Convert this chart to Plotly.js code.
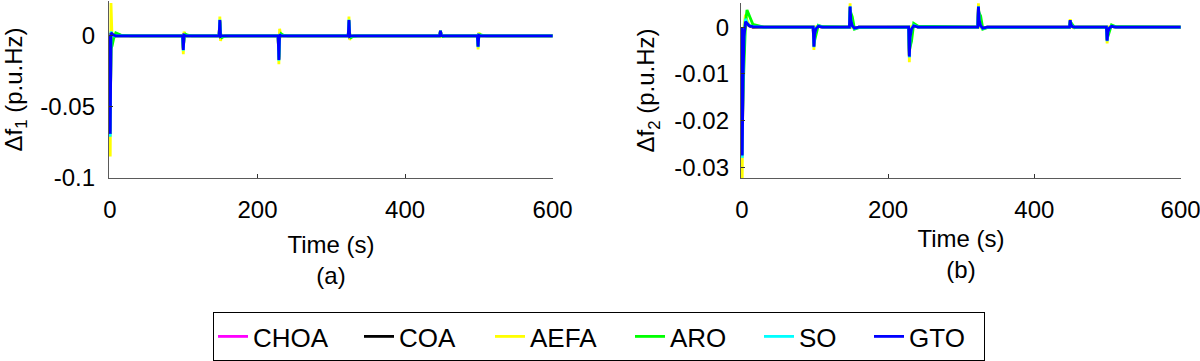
<!DOCTYPE html>
<html>
<head>
<meta charset="utf-8">
<script src="https://cdn.plot.ly/plotly-3.0.1.min.js"></script>
<style>html,body{margin:0;padding:0;background:#fff;}#chart{width:1200px;height:361px;}</style>
</head>
<body>
<div id="chart"></div>
<script>
// ---------- DATA ----------
const seriesNames = ['CHOA', 'COA', 'AEFA', 'ARO', 'SO', 'GTO'];
const seriesColors = ['#ff00ff', '#000000', '#ffff00', '#00ff00', '#00ffff', '#0000ff'];

// time axis of panel (a): Δf1
const timeA = [0, 0.5, 1.5, 3, 5, 8, 15, 30,
  98.5, 99.5, 100.5, 102.5, 105.5, 111.5,
  148, 149, 150, 152, 155, 161,
  228, 229, 230, 232, 235, 241,
  323, 324, 325, 327, 330, 336,
  447, 448, 449, 451, 454, 460,
  498, 499, 500, 502, 505, 511,
  600];

const choaA = [0, -0.066, 0.0015, 0.0005, 0, 0, 0, 0,
  0, -0.0095, 0.0004, 0, 0, 0,
  0, 0.0105, -0.0004, 0, 0, 0,
  0, -0.0165, 0.0006, 0, 0, 0,
  0, 0.0105, -0.0004, 0, 0, 0,
  0, 0.0034, 0.0002, 0, 0, 0,
  0, -0.0074, 0.0003, 0, 0, 0,
  0];
const coaA = [0, -0.067, 0.0018, 0.0005, 0, 0, 0, 0,
  0, -0.0097, 0.0004, 0, 0, 0,
  0, 0.0107, -0.0004, 0, 0, 0,
  0, -0.0167, 0.0007, 0, 0, 0,
  0, 0.0107, -0.0004, 0, 0, 0,
  0, 0.0035, 0.0002, 0, 0, 0,
  0, -0.0075, 0.0003, 0, 0, 0,
  0];
const aefaA = [0, -0.085, 0.023, -0.003, 0.001, 0, 0, 0,
  0, -0.0130, 0.0030, -0.0005, 0, 0,
  0, 0.0135, -0.0036, 0.0005, 0, 0,
  0, -0.0200, 0.0050, -0.0005, 0, 0,
  0, 0.0135, -0.0030, 0.0004, 0, 0,
  0, 0.0040, -0.0004, 0, 0, 0,
  0, -0.0096, 0.0023, -0.0003, 0, 0,
  0];
const aroA = [0, -0.055, -0.009, -0.007, -0.002, 0.002, 0.0005, 0,
  0, -0.0085, -0.0015, 0.0012, 0.0004, 0,
  0, 0.0095, 0.0015, -0.0012, -0.0004, 0,
  0, -0.0150, -0.0020, 0.0015, 0.0005, 0,
  0, 0.0095, 0.0015, -0.0012, -0.0004, 0,
  0, 0.0030, 0.0008, -0.0004, 0, 0,
  0, -0.0070, -0.0010, 0.0008, 0.0003, 0,
  0];
const soA = [0, -0.071, 0.003, 0.0005, 0, 0, 0, 0,
  0, -0.0105, 0.0008, 0, 0, 0,
  0, 0.0115, -0.0008, 0, 0, 0,
  0, -0.0175, 0.0010, 0, 0, 0,
  0, 0.0115, -0.0008, 0, 0, 0,
  0, 0.0037, 0.0002, 0, 0, 0,
  0, -0.0080, 0.0005, 0, 0, 0,
  0];
const gtoA = [0, -0.069, 0.002, 0.001, 0.0005, 0, 0, 0,
  0, -0.0100, 0.0005, 0, 0, 0,
  0, 0.0110, -0.0005, 0, 0, 0,
  0, -0.0170, 0.0008, 0, 0, 0,
  0, 0.0110, -0.0005, 0, 0, 0,
  0, 0.0036, 0.0003, 0, 0, 0,
  0, -0.0077, 0.0004, 0, 0, 0,
  0];

// time axis of panel (b): Δf2
const timeB = [0, 0.5, 1.5, 3, 5, 7, 10, 15, 30,
  97.5, 98.5, 99.5, 101.5, 104.5, 110.5,
  147, 148, 149, 151, 154, 160,
  228, 229, 230, 232, 235, 241,
  322.5, 323.5, 324.5, 326.5, 329.5, 335.5,
  448, 449, 450, 452, 455, 461,
  498.5, 499.5, 500.5, 502.5, 505.5, 511.5,
  600];

const choaB = [0, -0.0270, -0.0115, -0.0018, 0.0011, 0.0007, 0.0003, 0, 0,
  0, -0.0040, -0.0014, -0.0003, 0.0002, 0,
  0, 0.0042, 0.0014, 0.0003, -0.0002, 0,
  0, -0.0060, -0.0021, -0.0004, 0.0003, 0,
  0, 0.0042, 0.0014, 0.0003, -0.0002, 0,
  0, 0.0014, 0.0006, 0.0001, 0, 0,
  0, -0.0028, -0.0010, -0.0002, 0.0002, 0,
  0];
const coaB = [0, -0.0272, -0.0118, -0.0019, 0.0011, 0.0007, 0.0003, 0, 0,
  0, -0.0041, -0.0014, -0.0003, 0.0002, 0,
  0, 0.0043, 0.0014, 0.0003, -0.0002, 0,
  0, -0.0061, -0.0021, -0.0004, 0.0003, 0,
  0, 0.0043, 0.0014, 0.0003, -0.0002, 0,
  0, 0.0014, 0.0006, 0.0001, 0, 0,
  0, -0.0028, -0.0011, -0.0002, 0.0002, 0,
  0];
const aefaB = [0, -0.0323, -0.0090, 0.0005, 0.0027, 0.0015, 0.0005, 0.0001, 0,
  0, -0.0049, -0.0012, 0.0001, 0.0003, 0,
  0, 0.0051, 0.0012, -0.0001, -0.0003, 0,
  0, -0.0075, -0.0018, 0.0002, 0.0004, 0,
  0, 0.0051, 0.0012, -0.0001, -0.0003, 0,
  0, 0.0017, 0.0005, 0, -0.0001, 0,
  0, -0.0035, -0.0009, 0.0001, 0.0002, 0,
  0];
const aroB = [0, -0.0220, -0.0143, -0.0060, 0.0010, 0.0037, 0.0025, 0.0006, 0,
  0, -0.0035, -0.0028, -0.0018, 0.0004, 0.0001,
  0, 0.0035, 0.0030, 0.0022, -0.0004, -0.0001,
  0, -0.0052, -0.0042, -0.0030, 0.0008, 0.0002,
  0, 0.0035, 0.0030, 0.0024, -0.0004, -0.0001,
  0, 0.0012, 0.0010, 0.0006, -0.0001, 0,
  0, -0.0025, -0.0020, -0.0015, 0.0005, 0.0001,
  0];
const soB = [0, -0.0280, -0.0110, -0.0010, 0.0018, 0.0010, 0.0004, 0.0001, 0,
  0, -0.0043, -0.0014, -0.0002, 0.0003, 0,
  0, 0.0045, 0.0014, 0.0002, -0.0003, 0,
  0, -0.0065, -0.0020, -0.0003, 0.0004, 0,
  0, 0.0045, 0.0014, 0.0002, -0.0003, 0,
  0, 0.0015, 0.0006, 0.0001, 0, 0,
  0, -0.0030, -0.0010, -0.0002, 0.0002, 0,
  0];
const gtoB = [0, -0.0275, -0.0120, -0.0020, 0.0012, 0.0008, 0.0003, 0.0001, 0,
  0, -0.0042, -0.0015, -0.0003, 0.0002, 0,
  0, 0.0044, 0.0015, 0.0003, -0.0002, 0,
  0, -0.0063, -0.0022, -0.0004, 0.0003, 0,
  0, 0.0044, 0.0015, 0.0003, -0.0002, 0,
  0, 0.0015, 0.0006, 0.0001, 0, 0,
  0, -0.0029, -0.0011, -0.0002, 0.0002, 0,
  0];

// tick labels
const xTickVals = [0, 200, 400, 600];
const xTickText = ['0', '200', '400', '600'];
const yTickValsA = [-0.1, -0.05, 0];
const yTickTextA = ['-0.1', '-0.05', '0'];
const yTickValsB = [-0.03, -0.02, -0.01, 0];
const yTickTextB = ['-0.03', '-0.02', '-0.01', '0'];

// ---------- BUILD ----------
const valuesA = [choaA, coaA, aefaA, aroA, soA, gtoA];
const valuesB = [choaB, coaB, aefaB, aroB, soB, gtoB];
const legendWidths = [101, 86, 95, 84, 65, 70];
const FONT = 'Liberation Sans, Arial, sans-serif';

const traces = [];
seriesNames.forEach((name, i) => {
  traces.push({
    x: timeA, y: valuesA[i], xaxis: 'x', yaxis: 'y', name: name, type: 'scatter', mode: 'lines',
    line: {color: seriesColors[i], width: 2.8}, legendgroup: name, showlegend: true,
    legendwidth: legendWidths[i], hoverinfo: 'skip'
  });
});
seriesNames.forEach((name, i) => {
  traces.push({
    x: timeB, y: valuesB[i], xaxis: 'x2', yaxis: 'y2', name: name, type: 'scatter', mode: 'lines',
    line: {color: seriesColors[i], width: 2.8}, legendgroup: name, showlegend: false, hoverinfo: 'skip'
  });
});

const axisCommon = {
  showgrid: false, zeroline: false, showline: true, linecolor: '#5a5a5a', linewidth: 1.2,
  ticks: 'inside', ticklen: 4, tickcolor: '#333', tickwidth: 1,
  tickfont: {family: FONT, size: 24, color: '#000'}, automargin: false, fixedrange: true,
  ticklabeloverflow: 'allow'
};

const W = 1200, H = 361;
const layout = {
  width: W, height: H, margin: {l: 0, r: 0, t: 0, b: 0},
  paper_bgcolor: '#fff', plot_bgcolor: '#fff',
  font: {family: FONT, color: '#000'},
  showlegend: true,
  xaxis: Object.assign({}, axisCommon, {
    domain: [109 / W, 553 / W], range: [-1.2, 600.5], anchor: 'y',
    tickvals: xTickVals, ticktext: xTickText, ticklabelstandoff: 10,
    title: {text: 'Time (s)<br>(a)', font: {family: FONT, size: 24, color: '#000'}, standoff: 14}
  }),
  yaxis: Object.assign({}, axisCommon, {
    domain: [1 - 183 / H, 1 - 1 / H], range: [-0.1, 0.0245], anchor: 'x',
    tickvals: yTickValsA, ticktext: yTickTextA, ticklabelstandoff: 8,
    title: {text: 'Δf<sub>1</sub> (p.u.Hz)', font: {family: FONT, size: 24, color: '#000'}, standoff: 14}
  }),
  xaxis2: Object.assign({}, axisCommon, {
    domain: [741 / W, 1181 / W], range: [-1.2, 600.5], anchor: 'y2',
    tickvals: xTickVals, ticktext: xTickText, ticklabelstandoff: 10,
    title: {text: 'Time (s)<br>(b)', font: {family: FONT, size: 24, color: '#000'}, standoff: 8}
  }),
  yaxis2: Object.assign({}, axisCommon, {
    domain: [1 - 183 / H, 1 - 3 / H], range: [-0.0323, 0.0052], anchor: 'x2',
    tickvals: yTickValsB, ticktext: yTickTextB, ticklabelstandoff: 6,
    title: {text: 'Δf<sub>2</sub> (p.u.Hz)', font: {family: FONT, size: 24, color: '#000'}, standoff: 12}
  }),
  legend: {
    orientation: 'h', x: 213 / W, xanchor: 'left', y: 1 - 321 / H, yanchor: 'top',
    bgcolor: '#fff', bordercolor: '#000', borderwidth: 1,
    font: {family: FONT, size: 26, color: '#000'}, itemclick: false, itemdoubleclick: false
  }
};

Plotly.newPlot('chart', traces, layout, {staticPlot: true, displayModeBar: false});
</script>
</body>
</html>
